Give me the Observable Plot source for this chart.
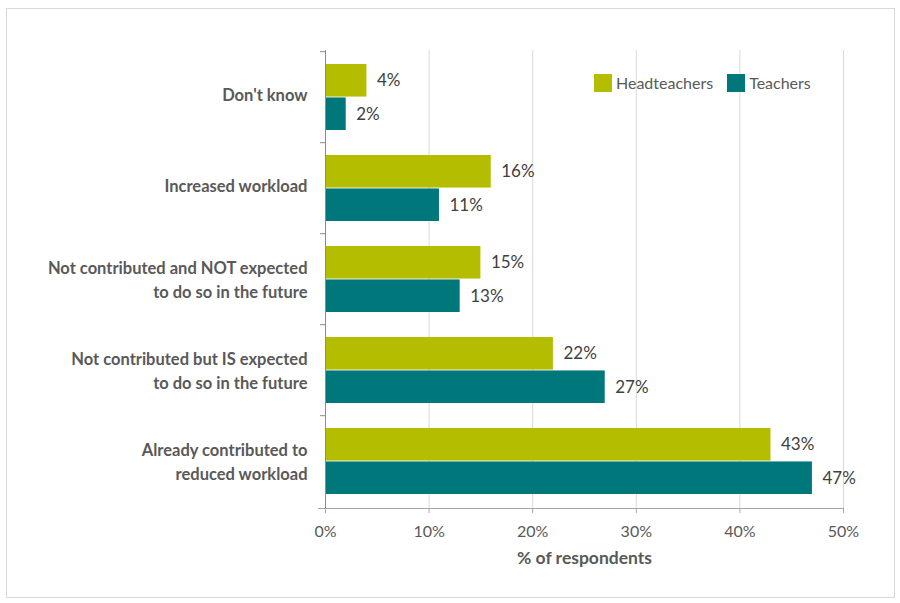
<!DOCTYPE html>
<html>
<head>
<meta charset="utf-8">
<script src="https://cdn.jsdelivr.net/npm/d3@7"></script>
<script src="https://cdn.jsdelivr.net/npm/@observablehq/plot@0.6"></script>
<style>
  html, body { margin: 0; padding: 0; background: #fff; }
  #wrap { position: relative; width: 900px; height: 603px; font-family: Lato, "Open Sans", sans-serif; }
  #border { position: absolute; left: 6px; top: 8px; width: 887px; height: 588px; border: 1px solid #d9d9d9; pointer-events: none; }
  #chart { position: absolute; left: 0; top: 0; }
  #legend { position: absolute; left: 594px; top: 66px; }
  .lg-swatch { margin-right: 14px !important; font-size: 16px; color: #595959; font-family: Lato, sans-serif; }
  .lg-swatch > svg { margin-right: 4px !important; }
</style>
</head>
<body>
<div id="wrap">
  <div id="chart"></div>
  <div id="legend"></div>
  <div id="border"></div>
</div>
<script>
const categories = [
  "Don't know",
  "Increased workload",
  "Not contributed and NOT expected to do so in the future",
  "Not contributed but IS expected to do so in the future",
  "Already contributed to reduced workload"
];
const categoryLabels = [
  "Don't know",
  "Increased workload",
  "Not contributed and NOT expected\nto do so in the future",
  "Not contributed but IS expected\nto do so in the future",
  "Already contributed to\nreduced workload"
];
const series = ["Headteachers", "Teachers"];
const headteachers = [4, 16, 15, 22, 43];
const teachers = [2, 11, 13, 27, 47];
const xTicks = [0, 10, 20, 30, 40, 50];
const xTitle = "% of respondents";
const colors = ["#b5bd00", "#00777a"];

const dataH = categories.map((c, i) => ({category: c, series: series[0], value: headteachers[i]}));
const dataT = categories.map((c, i) => ({category: c, series: series[1], value: teachers[i]}));
const labelOf = new Map(categories.map((c, i) => [c, categoryLabels[i]]));
const singleLine = categories.filter((c, i) => !categoryLabels[i].includes("\n"));
const multiLine = categories.filter((c, i) => categoryLabels[i].includes("\n"));

const H = 603, mt = 50, mb = 95;
const step = (H - mt - mb) / categories.length;
const half = step * (1 - 0.27) / 2;

const labelStyle = {tickSize: 0, tickPadding: 18, tickFormat: d => labelOf.get(d), fontSize: 16.5, fontWeight: "bold", fill: "#595959", lineHeight: 1.45};

const chart = Plot.plot({
  width: 900,
  height: H,
  marginLeft: 325,
  marginRight: 57,
  marginTop: mt,
  marginBottom: mb,
  style: {fontFamily: "Lato, 'Open Sans', sans-serif", background: "transparent"},
  x: {domain: [0, 50], label: null},
  y: {domain: categories, paddingInner: 0.27, paddingOuter: 0.135, label: null},
  color: {domain: series, range: colors},
  marks: [
    Plot.gridX(xTicks.slice(1), {stroke: "#d9d9d9", strokeOpacity: 1, strokeWidth: 1}),
    Plot.barX(dataH, {x: "value", y: "category", fill: "series", insetBottom: half}),
    Plot.barX(dataT, {x: "value", y: "category", fill: "series", insetTop: half}),
    Plot.text(dataH, {x: "value", y: "category", text: d => d.value + "%", dx: 10, dy: -half / 2, textAnchor: "start", fontSize: 17, fill: "#404040"}),
    Plot.text(dataT, {x: "value", y: "category", text: d => d.value + "%", dx: 10, dy: half / 2, textAnchor: "start", fontSize: 17, fill: "#404040"}),
    Plot.ruleX([0], {stroke: "#8c8c8c", strokeWidth: 1}),
    Plot.frame({anchor: "bottom", stroke: "#a6a6a6", insetLeft: -7}),
    Plot.axisY({tickSize: 5, tickFormat: () => "", dy: -step / 2, stroke: "#8c8c8c"}),
    Plot.axisY(singleLine, {...labelStyle, dy: -4}),
    Plot.axisY(multiLine, {...labelStyle, dy: -1}),
    Plot.axisX(xTicks, {tickSize: 5, tickPadding: 12, tickFormat: d => d + "%", stroke: "#a6a6a6", fill: "#595959", fontSize: 16, label: null}),
    Plot.text([xTitle], {frameAnchor: "bottom", dy: 55, fontSize: 17.5, fontWeight: "bold", fill: "#595959"})
  ]
});
document.getElementById("chart").appendChild(chart);

const legend = Plot.legend({
  color: {type: "ordinal", domain: series, range: colors},
  swatchSize: 18,
  className: "lg"
});
document.getElementById("legend").appendChild(legend);
</script>
</body>
</html>
